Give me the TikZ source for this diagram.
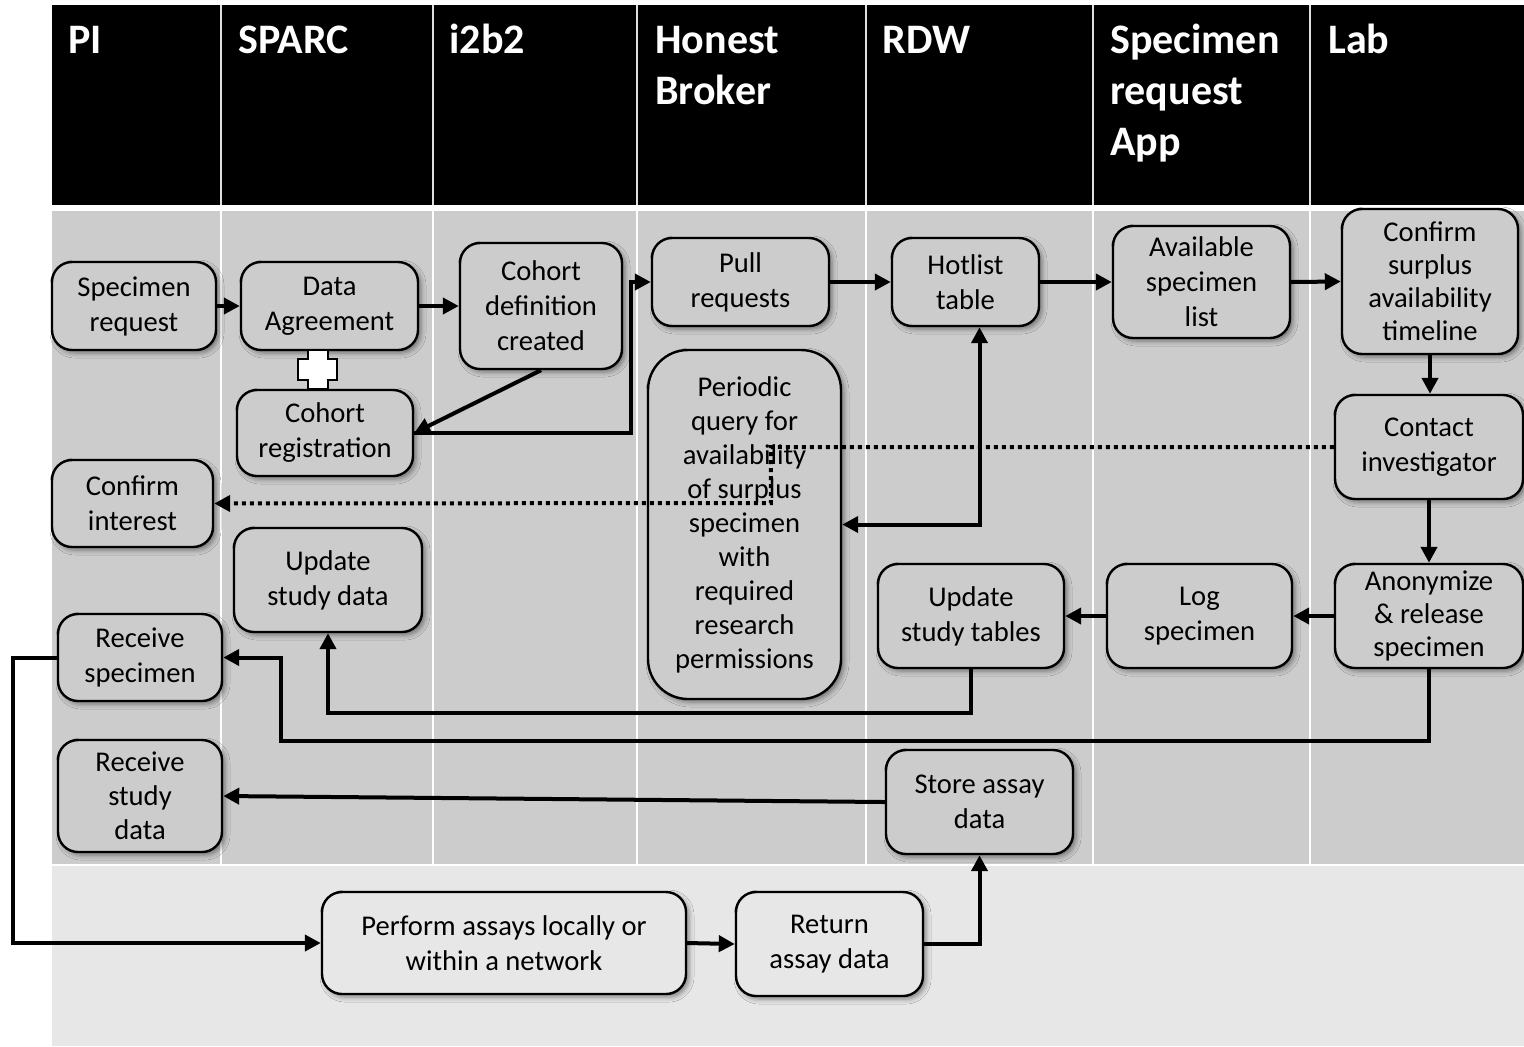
\documentclass[tikz,border=0pt]{standalone}
\usepackage{fontspec}
\setmainfont{Carlito}
\usetikzlibrary{arrows.meta,shadows.blur,calc}
\definecolor{bandgray}{RGB}{204,204,204}
\definecolor{lowgray}{RGB}{231,231,231}
\newcommand{\hlines}[1]{\vtop{\baselineskip=25.5pt\halign{##\hfil\cr#1\crcr}}}
\begin{document}
\begin{tikzpicture}[x=0.5pt,y=-0.5pt,
  hdr/.style={anchor=base west,inner sep=0pt,text=white,
    font=\bfseries\fontsize{21}{25.5}\selectfont},
  box/.style={draw,line width=1.2pt,rounded corners=10pt,fill=bandgray,
    align=center,inner sep=0pt,font=\fontsize{14.3}{17.5}\selectfont,
    blur shadow={shadow xshift=1.5pt,shadow yshift=-1.5pt,shadow blur radius=2.5pt,shadow opacity=45}},
  lowbox/.style={box,fill=lowgray},
  conn/.style={line width=2pt,-{Triangle[length=8pt,width=8pt]}},
  dconn/.style={line width=2pt,dash pattern=on 2pt off 2pt,-{Triangle[length=8pt,width=8pt]}},
  bconn/.style={line width=2pt,{Triangle[length=8pt,width=8pt]}-{Triangle[length=8pt,width=8pt]}}]
\useasboundingbox (0,0) rectangle (1524,1046);
% bands
\fill[white] (0,0) rectangle (1524,1046);
\fill[black] (52,5) rectangle (1524,205);
\fill[bandgray] (52,211) rectangle (1524,865);
\fill[lowgray] (52,865) rectangle (1524,1046);
\draw[white,line width=1pt] (52,865) -- (1524,865);
\foreach \x in {221,433,637,866,1093,1310}{
  \draw[gray!25,line width=0.8pt] (\x,5) -- (\x,205);
  \draw[white,line width=1pt] (\x,211) -- (\x,865);
}
% headers
\node[hdr] (hPI) at (68,53) {PI};
\node[hdr] (hSPARC) at (238,53) {SPARC};
\node[hdr] (hI2B2) at (449,53) {i2b2};
\node[hdr] (hHB) at (655,53) {\hlines{Honest\cr Broker}};
\node[hdr] (hRDW) at (882,53) {RDW};
\node[hdr] (hSRA) at (1110,53) {\hlines{Specimen\cr request\cr App}};
\node[hdr] (hLab) at (1328,53) {Lab};
% nodes
\node[box,minimum width=82pt,minimum height=44pt] (n1) at (134,306) {Specimen\\request};
\node[box,minimum width=88.5pt,minimum height=44pt] (n2) at (329.5,306) {Data\\Agreement};
\node[box,minimum width=88pt,minimum height=43pt] (n3) at (325,433) {Cohort\\registration};
\node[box,minimum width=81pt,minimum height=63pt] (n5) at (541,306) {Cohort\\definition\\created};
\node[box,minimum width=88.5pt,minimum height=44pt] (n6) at (740.5,282) {Pull\\requests};
\node[box,rounded corners=20pt,minimum width=96.5pt,minimum height=174.5pt,
  font=\fontsize{14.3}{17}\selectfont] (n7) at (744.5,524.5)
  {Periodic\\query for\\availability\\of surplus\\specimen\\with\\required\\research\\permissions};
\node[box,minimum width=73.5pt,minimum height=44pt] (n8) at (965.5,282) {Hotlist\\table};
\node[box,minimum width=88.5pt,minimum height=56pt] (n9) at (1201.5,282) {Available\\specimen\\list};
\node[box,minimum width=88pt,minimum height=72.5pt,font=\fontsize{14.3}{16.5}\selectfont] (n10) at (1430,281.5) {Confirm\\surplus\\availability\\timeline};
\node[box,minimum width=94pt,minimum height=52pt] (n11) at (1429,447) {Contact\\investigator};
\node[box,minimum width=94pt,minimum height=52pt,font=\fontsize{14.3}{16.5}\selectfont] (n12) at (1429,616) {Anonymize\\\& release\\specimen};
\node[box,minimum width=92.5pt,minimum height=52pt] (n13) at (1199.5,616) {Log\\specimen};
\node[box,minimum width=93pt,minimum height=52pt] (n14) at (971,616) {Update\\study tables};
\node[box,minimum width=80.5pt,minimum height=43.5pt] (n15) at (132.5,503.5) {Confirm\\interest};
\node[box,minimum width=94pt,minimum height=52pt] (n16) at (328,580) {Update\\study data};
\node[box,minimum width=82pt,minimum height=43.5pt] (n17) at (140,657.5) {Receive\\specimen};
\node[box,minimum width=82pt,minimum height=56pt,font=\fontsize{14.3}{17}\selectfont] (n18) at (140,796) {Receive\\study\\data};
\node[box,minimum width=93.5pt,minimum height=52pt] (n19) at (979.5,802) {Store assay\\data};
\node[lowbox,minimum width=182pt,minimum height=51pt] (n20) at (504,943) {Perform assays locally or\\within a network};
\node[lowbox,minimum width=93.5pt,minimum height=52pt] (n21) at (829.5,944) {Return\\assay data};
% plus connector between Data Agreement and Cohort registration
\draw[line width=1.2pt,fill=white] (308,350) -- (328,350) -- (328,359) -- (337,359) -- (337,380) -- (328,380)
  -- (328,389) -- (308,389) -- (308,380) -- (298,380) -- (298,359) -- (308,359) -- cycle;
% connectors
\draw[conn] (n1.east) -- (n2.west);
\draw[conn] (n2.east) -- (n5.west);
\draw[conn] (n5.south) -- (n3.east);
\draw[conn] (n3.east) -- ++(217,0) |- (n6.west);
\draw[conn] (n6.east) -- (n8.west);
\draw[conn] (n8.east) -- (n9.west);
\draw[conn] (n9.east) -- (n10.west);
\draw[conn] (n10.south) -- (n10.south |- n11.north);
\draw[conn] (n11.south) -- (n11.south |- n12.north);
\draw[conn] (n12.west) -- (n13.east);
\draw[conn] (n13.west) -- (n14.east);
\draw[conn] (n14.south) -- ++(0,44) -| (n16.south);
\draw[conn] (n12.south) -- ++(0,72) -| ($(n17.east)+(58,0)$) -- (n17.east);
\draw[conn] (n17.west) -- ++(-44,0) |- (n20.west);
\draw[conn] (n20.east) -- (n21.west);
\draw[conn] (n21.east) -| (n19.south);
\draw[conn] (n19.west) -- (n18.east);
\draw[bconn] ($(n8.south)+(14,0)$) |- (n7.east);
\draw[dconn] (n11.west) -- ++(-563,0) -- ++(0,56) -- (n15.east);
\end{tikzpicture}
\end{document}
